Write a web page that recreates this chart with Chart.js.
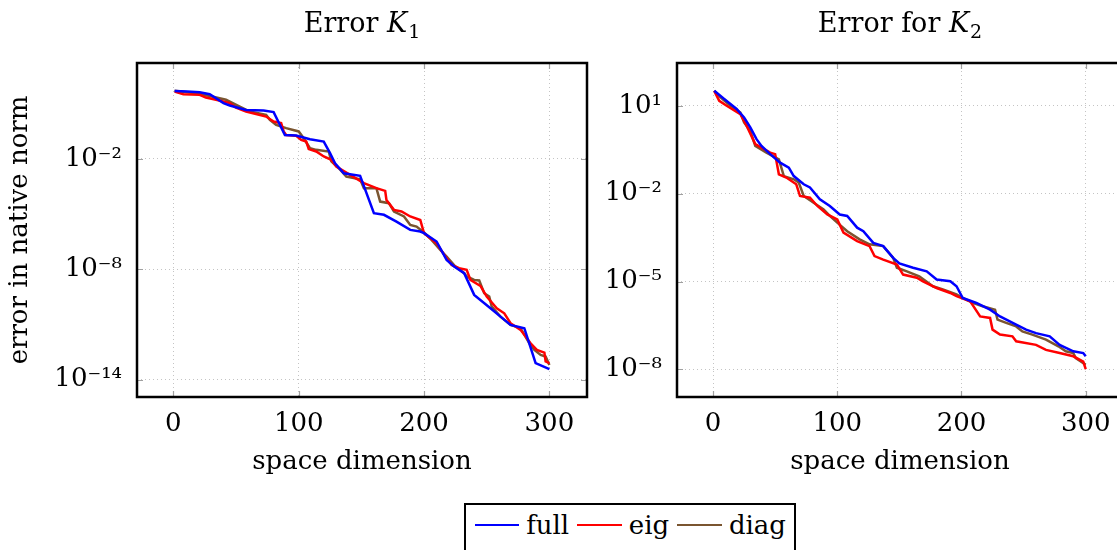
<!DOCTYPE html>
<html><head><meta charset="utf-8">
<script src="https://cdn.jsdelivr.net/npm/chart.js@4.4.0/dist/chart.umd.min.js"></script>
<style>
html,body{margin:0;padding:0;background:#fff;width:1117px;height:550px;overflow:hidden;position:relative;font-family:'DejaVu Serif',serif;color:#000}
canvas{position:absolute;top:0}
#c1{left:0}
#c2{left:600px}
.title{position:absolute;top:8px;font-size:27px;line-height:30px;text-align:center;width:400px;white-space:nowrap}
.title i{font-style:italic}
.title .sub{font-size:19px;position:relative;top:6px;margin-left:1px}
#legend{position:absolute;left:464px;top:503px;width:332px;border:2.5px solid #000;box-sizing:border-box;display:flex;align-items:center;padding:3px 0 10px 8.5px;font-size:26px;line-height:34px}
#legend .sw{display:inline-block;width:45px;height:2.5px;margin-right:7px}
#legend .tx{margin-right:8px}
</style>
</head><body>
<canvas id="c1" width="600" height="482"></canvas>
<canvas id="c2" width="540" height="482"></canvas>
<div class="title" style="left:162px">Error <i>K</i><span class="sub">1</span></div>
<div class="title" style="left:700px">Error for <i>K</i><span class="sub">2</span></div>
<div id="legend"></div>
<script>
// ---- data (x = space dimension, values given as log10 of the error) ----
const seriesNames = ['full', 'eig', 'diag'];
const seriesColors = ['#0000ff', '#ff0000', '#7a5530'];
const xTicks = [0, 100, 200, 300];
const k1YTickExp = [-14, -8, -2];
const k2YTickExp = [1, -2, -5, -8];

// Error K1
const k1FullX = [1,11,21,29,40,45,58,72,80,89,98,109,120,125,129,136,149,160,168,178,189,197,200,210,218,224,232,240,253,261,269,280,289,300];
const k1FullE = [1.69,1.66,1.62,1.51,1.03,0.90,0.66,0.63,0.54,-0.70,-0.73,-0.93,-1.06,-1.69,-2.24,-2.78,-2.92,-4.95,-5.04,-5.41,-5.86,-5.95,-6.04,-6.49,-7.49,-7.85,-8.21,-9.39,-10.12,-10.57,-11.02,-11.20,-13.10,-13.43];
const k1EigX = [1,8,21,26,34,45,50,58,74,80,86,88,90,98,102,106,108,114,120,126,130,141,152,162,169,170,176,182,189,197,200,205,210,217,222,228,234,237,245,250,258,264,269,277,285,290,296,297,300];
const k1EigE = [1.66,1.51,1.48,1.33,1.21,1.03,0.79,0.57,0.30,0.03,-0.06,-0.51,-0.70,-0.75,-0.97,-1.06,-1.47,-1.60,-1.87,-2.05,-2.42,-2.87,-3.32,-3.59,-3.74,-4.23,-4.77,-4.86,-5.13,-5.32,-6.04,-6.31,-6.58,-7.31,-7.76,-7.94,-8.03,-8.58,-8.90,-9.48,-10.12,-10.39,-10.93,-11.29,-12.02,-12.38,-12.53,-13.01,-13.10];
const k1DiagX = [1,18,29,42,53,61,74,77,82,90,100,104,109,114,124,126,132,138,149,152,162,165,172,176,184,189,194,200,206,213,218,225,232,234,240,244,248,252,254,261,269,277,284,288,293,297,300];
const k1DiagE = [1.70,1.57,1.42,1.21,0.84,0.57,0.39,0.12,-0.15,-0.33,-0.51,-0.88,-1.42,-1.51,-1.60,-2.14,-2.51,-2.96,-3.11,-3.59,-3.59,-4.32,-4.41,-4.86,-5.13,-5.59,-5.68,-6.00,-6.40,-6.95,-7.31,-7.85,-8.21,-8.39,-8.58,-8.61,-9.30,-9.48,-10.03,-10.57,-11.02,-11.20,-12.02,-12.38,-12.65,-12.74,-13.20];

// Error for K2
const k2FullX = [1,9,19,25,30,35,39,46,54,61,65,73,78,86,94,102,108,116,121,129,137,145,150,161,172,180,191,196,201,212,223,231,244,252,260,271,279,290,298,300];
const k2FullE = [1.51,1.23,0.89,0.60,0.26,-0.14,-0.37,-0.65,-0.94,-1.11,-1.40,-1.68,-1.79,-2.19,-2.42,-2.71,-2.76,-3.16,-3.28,-3.68,-3.79,-4.19,-4.38,-4.53,-4.65,-4.93,-4.99,-5.16,-5.56,-5.73,-5.96,-6.19,-6.47,-6.64,-6.76,-6.87,-7.16,-7.38,-7.44,-7.55];
const k2EigX = [1,5,11,22,27,34,46,50,53,59,67,70,78,84,92,100,105,116,126,130,137,148,153,164,169,180,191,196,207,215,223,225,231,241,244,260,268,279,290,298,300];
const k2EigE = [1.51,1.17,1.00,0.71,0.32,-0.31,-0.60,-0.65,-1.34,-1.45,-1.68,-2.08,-2.14,-2.42,-2.71,-2.88,-3.33,-3.62,-3.79,-4.13,-4.25,-4.42,-4.76,-4.87,-4.99,-5.22,-5.39,-5.50,-5.67,-6.19,-6.24,-6.64,-6.81,-6.87,-7.04,-7.16,-7.33,-7.44,-7.55,-7.73,-7.99];
const k2DiagX = [1,6,14,22,25,30,34,43,53,57,65,69,73,81,89,94,100,108,118,126,137,145,148,156,166,177,185,196,201,209,217,227,229,236,244,249,257,268,278,284,290,292,300];
const k2DiagE = [1.51,1.29,1.00,0.77,0.43,0.14,-0.37,-0.60,-0.83,-1.40,-1.51,-1.62,-2.08,-2.31,-2.54,-2.76,-2.99,-3.28,-3.56,-3.73,-3.79,-4.19,-4.53,-4.65,-4.82,-5.16,-5.27,-5.44,-5.56,-5.73,-5.84,-5.96,-6.30,-6.41,-6.53,-6.70,-6.81,-6.98,-7.21,-7.38,-7.44,-7.61,-7.84];

// ---- helpers ----
const FONT = 'DejaVu Serif';
const supMap = {'-':'\u207B','0':'\u2070','1':'\u00B9','2':'\u00B2','3':'\u00B3','4':'\u2074','5':'\u2075','6':'\u2076','7':'\u2077','8':'\u2078','9':'\u2079'};
function powLabel(e){ return '10' + String(e).split('').map(c => supMap[c]).join(''); }
function pts(xs, es){ return xs.map((x, i) => ({x: x, y: Math.pow(10, es[i])})); }
function ds(i, xs, es){
  return {label: seriesNames[i], data: pts(xs, es), borderColor: seriesColors[i], backgroundColor: seriesColors[i],
          borderWidth: 2.5, pointRadius: 0, pointHoverRadius: 0, tension: 0, fill: false};
}

const framePlugin = {
  id: 'frame',
  afterDraw(chart){
    const {ctx, chartArea: a, scales} = chart;
    ctx.save();
    ctx.strokeStyle = '#a0a0a0'; ctx.lineWidth = 1.2;
    const L = 6;
    scales.x.ticks.forEach(t => {
      const px = Math.round(scales.x.getPixelForValue(t.value)) + 0.5;
      ctx.beginPath(); ctx.moveTo(px, a.bottom); ctx.lineTo(px, a.bottom - L);
      ctx.moveTo(px, a.top); ctx.lineTo(px, a.top + L); ctx.stroke();
    });
    scales.y.ticks.forEach(t => {
      const py = Math.round(scales.y.getPixelForValue(t.value)) + 0.5;
      ctx.beginPath(); ctx.moveTo(a.left, py); ctx.lineTo(a.left + L, py);
      ctx.moveTo(a.right, py); ctx.lineTo(a.right - L, py); ctx.stroke();
    });
    ctx.strokeStyle = '#000'; ctx.lineWidth = 2.5;
    ctx.strokeRect(a.left, a.top, a.right - a.left, a.bottom - a.top);
    ctx.restore();
  }
};

function makeChart(id, datasets, yMin, yMax, yTickExp, yTitle, yWidth, padRight, yPad){
  const H = 482, bottomPx = 397, topPx = 63;
  return new Chart(document.getElementById(id), {
    type: 'line',
    data: {datasets: datasets},
    plugins: [framePlugin],
    options: {
      responsive: false, animation: false, devicePixelRatio: 1,
      layout: {padding: {top: topPx, right: padRight, left: 0, bottom: 0}},
      plugins: {legend: {display: false}, tooltip: {enabled: false}, title: {display: false}},
      scales: {
        x: {
          type: 'linear', min: -29, max: 330,
          afterBuildTicks: s => { s.ticks = xTicks.map(v => ({value: v})); },
          afterFit: s => { s.height = H - bottomPx; },
          grid: {color: '#c4c4c4', lineWidth: 1, drawTicks: false},
          border: {display: false, dash: [1, 3]},
          ticks: {color: '#000', font: {family: FONT, size: 26}, padding: 12, maxRotation: 0, autoSkip: false,
                  callback: v => String(v)},
          title: {display: true, text: 'space dimension', color: '#000', font: {family: FONT, size: 26}, padding: {top: 0, bottom: 4}}
        },
        y: {
          type: 'logarithmic', min: yMin, max: yMax,
          afterBuildTicks: s => { s.ticks = yTickExp.map(e => ({value: Math.pow(10, e)})); },
          afterFit: s => { s.width = yWidth; },
          grid: {color: '#c4c4c4', lineWidth: 1, drawTicks: false},
          border: {display: false, dash: [1, 3]},
          ticks: {color: '#000', font: {family: FONT, size: 26}, padding: yPad, autoSkip: false,
                  callback: v => powLabel(Math.round(Math.log10(v)))},
          title: {display: !!yTitle, text: yTitle || '', color: '#000', font: {family: FONT, size: 26}, padding: {top: 5, bottom: 0}}
        }
      }
    }
  });
}

makeChart('c1', [ds(0, k1FullX, k1FullE), ds(1, k1EigX, k1EigE), ds(2, k1DiagX, k1DiagE)],
          1.15e-15, 1.62e3, k1YTickExp, 'error in native norm', 137, 13, 15);
makeChart('c2', [ds(0, k2FullX, k2FullE), ds(1, k2EigX, k2EigE), ds(2, k2DiagX, k2DiagE)],
          1.15e-9, 2.88e2, k2YTickExp, null, 77, 17, 15);

// legend
const lg = document.getElementById('legend');
seriesNames.forEach((n, i) => {
  const sw = document.createElement('span'); sw.className = 'sw'; sw.style.background = seriesColors[i];
  const tx = document.createElement('span'); tx.className = 'tx'; tx.textContent = n;
  lg.appendChild(sw); lg.appendChild(tx);
});
</script>
</body></html>
